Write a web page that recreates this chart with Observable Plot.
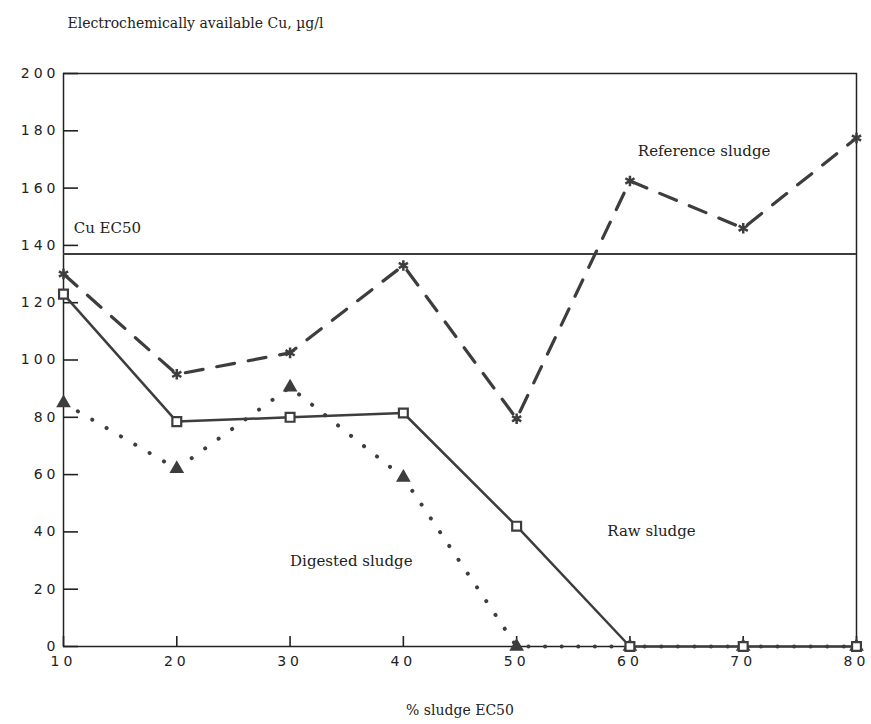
<!DOCTYPE html>
<html><head><meta charset="utf-8">
<script src="https://cdn.jsdelivr.net/npm/d3@7"></script>
<script src="https://cdn.jsdelivr.net/npm/@observablehq/plot@0.6"></script>
<style>
body{margin:0;background:#fff}
#chart svg{display:block}
#chart g[aria-label="y-axis tick label"] text, #chart g[aria-label="x-axis tick label"] text{font-size:14px;font-family:'DejaVu Sans',sans-serif;letter-spacing:4px}
</style>
</head><body><div id="chart"></div>
<script>
const sludgePct = [10, 20, 30, 40, 50, 60, 70, 80];
const referenceSludge = [130, 95, 102.5, 133, 79.5, 162.5, 146, 177.5];
const rawSludge = [123, 78.5, 80, 81.5, 42, 0, 0, 0];
const digestedSludge = [85, 62, 90.5, 59, 0, 0, 0, 0];
const cuEC50 = 137;
const yTicks = [0, 20, 40, 60, 80, 100, 120, 140, 160, 180, 200];
const xTicks = [10, 20, 30, 40, 50, 60, 70, 80];
const seriesLabels = ["Reference sludge", "Raw sludge", "Digested sludge", "Cu EC50"];
const yTitle = "Electrochemically available Cu, \u00b5g/l";
const xTitle = "% sludge EC50";

const toRows = vals => sludgePct.map((x, i) => ({x, y: vals[i]}));
const ref = toRows(referenceSludge);
const raw = toRows(rawSludge);
const dig = toRows(digestedSludge);

const W = 871, H = 724, mL = 63, mR = 15, mT = 73, mB = 78;
const frameW = W - mL - mR, frameH = H - mT - mB;
const ink = "#3d3d3d";
const serif = "'DejaVu Serif', serif";
// tick lengths (px) converted to data units
const yTickLen = 15 * (80 - 10) / frameW;
const xTickLen = 10 * 200 / frameH;

const chart = Plot.plot({
  width: W,
  height: H,
  marginLeft: mL,
  marginRight: mR,
  marginTop: mT,
  marginBottom: mB,
  style: {fontFamily: serif, background: "#fff", color: "#222"},
  x: {domain: [10, 80]},
  y: {domain: [0, 200]},
  marks: [
    // inward ticks
    Plot.ruleY(yTicks, {y: d => d, x1: xTicks[0], x2: xTicks[0] + yTickLen, stroke: "#222", strokeWidth: 1.6}),
    Plot.ruleX(xTicks, {x: d => d, y1: yTicks[0], y2: yTicks[0] + xTickLen, stroke: "#222", strokeWidth: 1.6}),
    // tick labels
    Plot.axisY(yTicks, {anchor: "left", tickSize: 0, tickPadding: 4, label: null, fill: "#222"}),
    Plot.axisX(xTicks, {anchor: "bottom", tickSize: 0, tickPadding: 10, label: null, fill: "#222"}),
    Plot.frame({stroke: "#222", strokeWidth: 1.5}),
    Plot.ruleY([cuEC50], {stroke: ink, strokeWidth: 2.2}),
    // Reference sludge
    Plot.line(ref, {x: "x", y: "y", stroke: ink, strokeWidth: 3.2, strokeDasharray: "18 14"}),
    Plot.dot(ref, {x: "x", y: "y", symbol: "asterisk", r: 5, stroke: ink, strokeWidth: 2.5}),
    // Digested sludge
    Plot.line(dig, {x: "x", y: "y", stroke: ink, strokeWidth: 4, strokeDasharray: "0.1 16.5", strokeLinecap: "round"}),
    Plot.dot(dig, {x: "x", y: "y", symbol: "triangle", r: 4.5, fill: ink, stroke: ink}),
    // Raw sludge
    Plot.line(raw, {x: "x", y: "y", stroke: ink, strokeWidth: 2.5}),
    Plot.dot(raw, {x: "x", y: "y", symbol: "square", r: 5, fill: "white", stroke: ink, strokeWidth: 2.2}),
    // annotations
    Plot.text([seriesLabels[3]], {x: 10.9, y: 146, text: d => d, textAnchor: "start", fontSize: 15, fontFamily: serif, fill: "#222"}),
    Plot.text([seriesLabels[0]], {x: 60.7, y: 172.8, text: d => d, textAnchor: "start", fontSize: 15, fontFamily: serif, fill: "#222"}),
    Plot.text([seriesLabels[1]], {x: 58.0, y: 40.1, text: d => d, textAnchor: "start", fontSize: 15, fontFamily: serif, fill: "#222"}),
    Plot.text([seriesLabels[2]], {x: 30.0, y: 29.7, text: d => d, textAnchor: "start", fontSize: 15, fontFamily: serif, fill: "#222"}),
    // titles
    Plot.text([yTitle], {frameAnchor: "top-left", dx: 4, dy: -55, text: d => d, textAnchor: "start", fontSize: 14, fontFamily: serif, fill: "#222", style: "letter-spacing:1px"}),
    Plot.text([xTitle], {frameAnchor: "bottom", dy: 68, text: d => d, fontSize: 14, fontFamily: serif, fill: "#222"})
  ]
});
document.getElementById("chart").appendChild(chart);
</script>
</body></html>
